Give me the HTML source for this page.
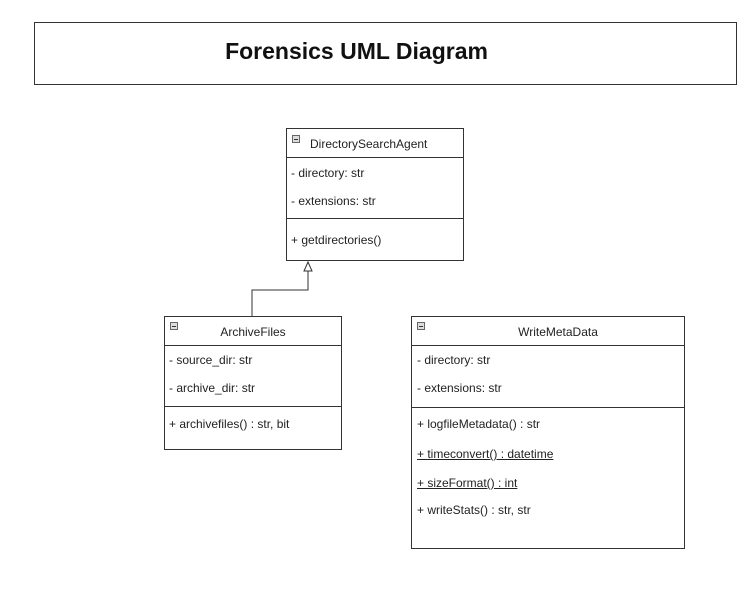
<!DOCTYPE html>
<html><head><meta charset="utf-8"><style>
body{margin:0;width:756px;height:594px;background:#fff;position:relative;overflow:hidden;font-family:"Liberation Sans",Arial,sans-serif;color:#222}
.b{position:absolute;border:1px solid #333;box-sizing:border-box;background:#fff}
.t{position:absolute;font-size:12px;white-space:nowrap}
.h{position:absolute;left:0;right:0;border-top:1px solid #333}
.m{position:absolute;width:8px;height:8px;border:1px solid #666;box-sizing:border-box;background:#ddd}
.m:after{content:"";position:absolute;left:1px;right:1px;top:3px;height:1px;background:#333}
u{text-decoration:underline}
</style></head><body>
<div class="b" style="left:34px;top:22px;width:703px;height:63px"></div>
<div class="t" style="left:5px;width:703px;top:38px;text-align:center;font-size:23px;font-weight:bold;color:#111">Forensics UML Diagram</div>

<div class="b" style="left:286px;top:128px;width:178px;height:133px">
 <div class="m" style="left:5px;top:6px"></div>
 <div class="t" style="left:23px;top:8px">DirectorySearchAgent</div>
 <div class="h" style="top:28px"></div>
 <div class="t" style="left:4px;top:37px">- directory: str</div>
 <div class="t" style="left:4px;top:65px">- extensions: str</div>
 <div class="h" style="top:89px"></div>
 <div class="t" style="left:4px;top:104px">+ getdirectories()</div>
</div>

<svg style="position:absolute;left:0;top:0" width="756" height="594">
<polyline points="252,316 252,290 308,290 308,271" fill="none" stroke="#333" stroke-width="1"/>
<polygon points="308,262 304,271 312,271" fill="#fff" stroke="#333" stroke-width="1"/>
</svg>

<div class="b" style="left:164px;top:316px;width:178px;height:134px">
 <div class="m" style="left:5px;top:5px"></div>
 <div class="t" style="left:0;right:0;top:8px;text-align:center">ArchiveFiles</div>
 <div class="h" style="top:28px"></div>
 <div class="t" style="left:4px;top:36px">- source_dir: str</div>
 <div class="t" style="left:4px;top:64px">- archive_dir: str</div>
 <div class="h" style="top:89px"></div>
 <div class="t" style="left:4px;top:100px">+ archivefiles() : str, bit</div>
</div>

<div class="b" style="left:411px;top:316px;width:274px;height:233px">
 <div class="m" style="left:5px;top:5px"></div>
 <div class="t" style="left:0;right:0;top:8px;text-align:center;padding-left:20px">WriteMetaData</div>
 <div class="h" style="top:28px"></div>
 <div class="t" style="left:5px;top:36px">- directory: str</div>
 <div class="t" style="left:5px;top:64px">- extensions: str</div>
 <div class="h" style="top:90px"></div>
 <div class="t" style="left:5px;top:100px">+ logfileMetadata() : str</div>
 <div class="t" style="left:5px;top:130px"><u>+ timeconvert() : datetime</u></div>
 <div class="t" style="left:5px;top:159px"><u>+ sizeFormat() : int</u></div>
 <div class="t" style="left:5px;top:186px">+ writeStats() : str, str</div>
</div>
</body></html>
